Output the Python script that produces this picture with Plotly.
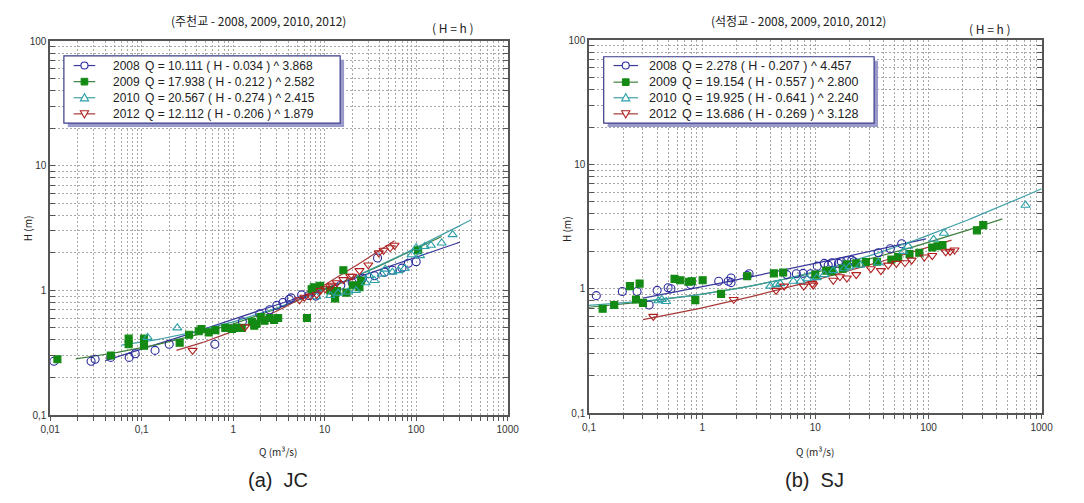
import numpy as np
import plotly.graph_objects as go

W, H_ = 1084, 503

# ---------------- data: JC (주천교) ----------------
jc_years = ["2008", "2009", "2010", "2012"]
jc_a = [10.111, 17.938, 20.567, 12.112]
jc_b = [0.034, 0.212, 0.274, 0.206]
jc_c = [3.868, 2.582, 2.415, 1.879]
jc_qmin = [0.04, 0.019, 0.06, 0.24]
jc_qmax = [300, 190, 400, 58]

jc_2008_q = [0.011, 0.028, 0.031, 0.046, 0.073, 0.085, 0.14, 0.20, 0.63, 1.26, 1.95, 2.5, 3.0, 3.5, 4.1, 4.3, 5.6, 6.7, 8, 12, 15, 20, 26, 35, 37.8, 45, 55, 70, 82, 100]
jc_2008_h = [0.27, 0.27, 0.28, 0.29, 0.29, 0.31, 0.33, 0.37, 0.37, 0.56, 0.65, 0.70, 0.76, 0.80, 0.85, 0.87, 0.92, 0.91, 0.90, 1.0, 1.1, 1.15, 1.25, 1.31, 1.82, 1.4, 1.45, 1.51, 1.65, 1.7]

jc_2009_q = [0.012, 0.046, 0.072, 0.072, 0.106, 0.106, 0.26, 0.33, 0.42, 0.45, 0.54, 0.64, 0.82, 0.97, 1.1, 1.24, 1.6, 1.7, 1.8, 2.0, 2.2, 2.5, 2.8, 3.1, 6.4, 7.2, 7.6, 8.9, 11.5, 13, 13.6, 16, 17.3, 20.3, 24, 25, 105]
jc_2009_h = [0.28, 0.30, 0.41, 0.37, 0.41, 0.36, 0.38, 0.44, 0.47, 0.49, 0.46, 0.48, 0.50, 0.49, 0.50, 0.50, 0.56, 0.52, 0.54, 0.61, 0.57, 0.60, 0.58, 0.60, 0.60, 1.02, 1.06, 1.09, 1.0, 0.86, 0.99, 1.45, 0.96, 1.1, 1.06, 1.2, 2.1]

jc_2010_q = [0.116, 0.245, 8.1, 11.5, 14, 18, 22, 28, 30.7, 35, 42, 46, 55, 64, 75, 89, 100, 110, 124, 145, 190, 250]
jc_2010_h = [0.42, 0.50, 0.89, 0.91, 0.95, 0.97, 1.0, 1.15, 1.32, 1.2, 1.35, 1.48, 1.4, 1.44, 1.5, 1.93, 2.2, 1.9, 2.25, 2.3, 2.4, 2.8]

jc_2012_q = [0.36, 1.35, 5.3, 6.0, 7, 8.2, 9, 10.1, 11.5, 12, 13.6, 16, 19, 20, 24, 30, 39, 44, 52, 58]
jc_2012_h = [0.33, 0.51, 0.84, 0.88, 0.90, 0.93, 1.0, 1.03, 1.07, 1.1, 1.15, 1.22, 1.3, 1.3, 1.44, 1.6, 2.0, 2.1, 2.2, 2.3]

# ---------------- data: SJ (석정교) ----------------
sj_years = ["2008", "2009", "2010", "2012"]
sj_a = [2.278, 19.154, 19.925, 13.686]
sj_b = [0.207, 0.557, 0.641, 0.269]
sj_c = [4.457, 2.800, 2.240, 3.128]
sj_qmin = [0.3, 0.1, 0.1, 0.3]
sj_qmax = [95, 450, 1000, 160]

sj_2008_q = [0.116, 0.197, 0.266, 0.34, 0.40, 0.50, 0.53, 0.79, 1.4, 1.7, 1.8, 1.8, 2.5, 2.6, 5.6, 6.8, 7.8, 9.1, 10.4, 12, 13, 14, 16, 17, 19, 21, 22, 36, 46, 58]
sj_2008_h = [0.88, 0.95, 0.95, 0.74, 0.97, 1.02, 1.0, 1.08, 1.15, 1.15, 1.22, 1.12, 1.28, 1.32, 1.3, 1.32, 1.33, 1.32, 1.52, 1.6, 1.55, 1.62, 1.6, 1.65, 1.68, 1.7, 1.65, 1.95, 2.1, 2.3]

sj_2009_q = [0.132, 0.167, 0.23, 0.28, 0.26, 0.30, 0.57, 0.64, 0.76, 0.81, 1.01, 0.87, 1.47, 2.5, 4.3, 5.2, 10, 12.5, 14, 17.5, 19, 23, 28, 35, 47, 54, 68, 83, 108, 120, 133, 268, 305]
sj_2009_h = [0.69, 0.74, 1.05, 1.10, 0.82, 0.77, 1.2, 1.17, 1.14, 1.15, 1.17, 0.81, 0.91, 1.26, 1.33, 1.35, 1.3, 1.4, 1.38, 1.45, 1.57, 1.6, 1.64, 1.65, 1.72, 1.8, 1.9, 1.95, 2.15, 2.2, 2.25, 2.95, 3.25]

sj_2010_q = [0.41, 0.44, 0.48, 4.0, 4.5, 4.9, 6.4, 7.4, 8.5, 10.3, 12, 14.4, 18, 20, 25, 36, 60, 66, 111, 137, 720]
sj_2010_h = [0.80, 0.82, 0.79, 1.05, 1.08, 1.1, 1.15, 1.15, 1.2, 1.23, 1.3, 1.4, 1.45, 1.5, 1.55, 1.62, 2.0, 2.2, 2.5, 2.8, 4.7]

sj_2012_q = [0.37, 1.9, 4.5, 5.3, 7.9, 9.4, 9.6, 14.4, 16.5, 19, 23, 31, 38, 44, 52, 62, 71, 92, 108, 142, 155, 170]
sj_2012_h = [0.60, 0.82, 0.97, 1.05, 1.05, 1.1, 1.07, 1.17, 1.25, 1.22, 1.3, 1.45, 1.4, 1.55, 1.6, 1.62, 1.7, 1.8, 1.85, 1.98, 2.0, 2.05]

# ---------------- styles ----------------
pt_colors = ["#2a2a9e", "#138a13", "#2aa0a8", "#b02020"]
ln_colors = ["#3a3a9a", "#3d7f3d", "#3f9fa6", "#a83a3a"]
symbols = ["circle-open", "square", "triangle-up-open", "triangle-down-open"]
msizes = [8, 7, 8, 8]

fig = go.Figure()


def px_x(p):
    return p / W


def px_y(p):
    return 1 - p / H_


stations = [
    dict(years=jc_years, a=jc_a, b=jc_b, c=jc_c, qmin=jc_qmin, qmax=jc_qmax,
         pts=[(jc_2008_q, jc_2008_h), (jc_2009_q, jc_2009_h), (jc_2010_q, jc_2010_h), (jc_2012_q, jc_2012_h)],
         xa="x", ya="y", fsize=12,
         box=(55, 51, 337, 120), rows=[61, 77.5, 94, 110.5], line_x=(65, 87), year_x=104, eq_x=137),
    dict(years=sj_years, a=sj_a, b=sj_b, c=sj_c, qmin=sj_qmin, qmax=sj_qmax,
         pts=[(sj_2008_q, sj_2008_h), (sj_2009_q, sj_2009_h), (sj_2010_q, sj_2010_h), (sj_2012_q, sj_2012_h)],
         xa="x2", ya="y2", fsize=12.5,
         box=(606, 52, 882, 120), rows=[61, 78, 94, 110.5], line_x=(616, 641), year_x=651, eq_x=685),
]

for st in stations:
    for i in range(4):
        a, b, c = st["a"][i], st["b"][i], st["c"][i]
        qs = np.logspace(np.log10(st["qmin"][i]), np.log10(st["qmax"][i]), 80)
        hs = b + (qs / a) ** (1.0 / c)
        fig.add_trace(go.Scatter(x=qs, y=hs, mode="lines", xaxis=st["xa"], yaxis=st["ya"],
                                 line=dict(color=ln_colors[i], width=1.2), showlegend=False,
                                 hoverinfo="skip"))
    for i in range(4):
        q, h = st["pts"][i]
        fig.add_trace(go.Scatter(x=q, y=h, mode="markers", xaxis=st["xa"], yaxis=st["ya"],
                                 marker=dict(symbol=symbols[i], size=msizes[i], color=pt_colors[i],
                                             line=dict(width=1.1, color=pt_colors[i])),
                                 showlegend=False))

grid_c = "#a8a8a8"
tick_font = dict(family="Liberation Sans, Arial", size=10, color="#333")


def xaxis_cfg(dom, rng, vals, anchor):
    return dict(type="log", domain=dom, range=rng, anchor=anchor, tickmode="array", tickvals=vals,
                ticktext=[str(v).replace(".", ",") if v < 1 else str(int(v)) for v in vals],
                showline=True, linecolor="#555", linewidth=1.5, mirror=True,
                ticks="outside", ticklen=4, tickcolor="#555",
                showgrid=True, gridcolor=grid_c, griddash="2px,2px", gridwidth=1,
                minor=dict(dtick="D1", ticks="outside", ticklen=4, tickcolor="#555",
                           showgrid=True, gridcolor=grid_c, griddash="2px,2px", gridwidth=1),
                tickfont=tick_font, zeroline=False)


def yaxis_cfg(dom, anchor):
    vals = [0.1, 1, 10, 100]
    return dict(type="log", domain=dom, range=[-1, 2], anchor=anchor, tickmode="array", tickvals=vals,
                ticktext=["0,1", "1", "10", "100"],
                showline=True, linecolor="#555", linewidth=1.5, mirror="allticks",
                ticks="inside", ticklen=5, tickcolor="#555",
                showgrid=True, gridcolor=grid_c, griddash="2px,2px", gridwidth=1,
                minor=dict(dtick="D1", ticks="inside", ticklen=5, tickcolor="#555",
                           showgrid=True, gridcolor=grid_c, griddash="2px,2px", gridwidth=1),
                tickfont=tick_font, zeroline=False)


fig.update_layout(
    width=W, height=H_, margin=dict(l=0, r=0, t=0, b=0), autosize=False,
    paper_bgcolor="white", plot_bgcolor="white", showlegend=False,
    xaxis=xaxis_cfg([px_x(41), px_x(508)], [-2, 3], [0.01, 0.1, 1, 10, 100, 1000], "y"),
    yaxis=yaxis_cfg([px_y(419), px_y(36)], "x"),
    xaxis2=xaxis_cfg([px_x(591), px_x(1053)], [-1, 3], [0.1, 1, 10, 100, 1000], "y2"),
    yaxis2=yaxis_cfg([px_y(417), px_y(35)], "x2"),
)

# ---------------- hand-drawn legend boxes ----------------
shapes = []


def add_marker_shape(kind, cx, cy, color):
    r = 3.6
    if kind == 0:
        shapes.append(dict(type="circle", xref="paper", yref="paper",
                           x0=px_x(cx - r), x1=px_x(cx + r), y0=px_y(cy + r), y1=px_y(cy - r),
                           fillcolor="white", line=dict(color=color, width=1.1), layer="above"))
    elif kind == 1:
        s = 3.4
        shapes.append(dict(type="rect", xref="paper", yref="paper",
                           x0=px_x(cx - s), x1=px_x(cx + s), y0=px_y(cy + s), y1=px_y(cy - s),
                           fillcolor=color, line=dict(color=color, width=1), layer="above"))
    else:
        d = -1 if kind == 2 else 1  # up / down
        tip = (cx, cy + d * 4.2)
        b1 = (cx - 4.2, cy - d * 3.2)
        b2 = (cx + 4.2, cy - d * 3.2)
        path = "M {} {} L {} {} L {} {} Z".format(px_x(tip[0]), px_y(tip[1]), px_x(b1[0]), px_y(b1[1]),
                                                  px_x(b2[0]), px_y(b2[1]))
        shapes.append(dict(type="path", xref="paper", yref="paper", path=path,
                           fillcolor="white", line=dict(color=color, width=1.1), layer="above"))


for st in stations:
    leg_font = dict(family="Liberation Sans, Arial", size=st["fsize"], color="#222")
    x0, y0, x1, y1 = st["box"]
    shapes.append(dict(type="rect", xref="paper", yref="paper",
                       x0=px_x(x0 + 4), x1=px_x(x1 + 4), y0=px_y(y1 + 4), y1=px_y(y0 + 4),
                       fillcolor="#9a9acb", line=dict(width=0), layer="above"))
    shapes.append(dict(type="rect", xref="paper", yref="paper",
                       x0=px_x(x0), x1=px_x(x1), y0=px_y(y1), y1=px_y(y0),
                       fillcolor="white", line=dict(color="#3a3a8a", width=1.2), layer="above"))
    lx0, lx1 = st["line_x"]
    for i in range(4):
        ry = st["rows"][i]
        shapes.append(dict(type="line", xref="paper", yref="paper",
                           x0=px_x(lx0), x1=px_x(lx1), y0=px_y(ry), y1=px_y(ry),
                           line=dict(color=ln_colors[i], width=1.2), layer="above"))
        add_marker_shape(i, (lx0 + lx1) / 2, ry, pt_colors[i])
        fig.add_annotation(x=px_x(st["year_x"]), y=px_y(ry), xref="paper", yref="paper",
                           text=st["years"][i], showarrow=False, xanchor="left", yanchor="middle",
                           font=leg_font, borderpad=0)
        eq = f"Q = {st['a'][i]:.3f} ( H - {st['b'][i]:.3f} ) ^ {st['c'][i]:.3f}"
        fig.add_annotation(x=px_x(st["eq_x"]), y=px_y(ry), xref="paper", yref="paper",
                           text=eq, showarrow=False, xanchor="left", yanchor="middle",
                           font=leg_font, borderpad=0)

fig.update_layout(shapes=shapes)

kfont = "Noto Sans CJK KR, Liberation Sans"
ann = [
    (254, 15, "(주천교 - 2008, 2009, 2010, 2012)", 12, kfont, 0),
    (452, 22, "( H = h )", 12, kfont, 0),
    (805, 15, "(석정교 - 2008, 2009, 2010, 2012)", 12, kfont, 0),
    (1000, 23, "( H = h )", 12, kfont, 0),
    (274, 456, "Q (m³/s)", 10, kfont, 0),
    (822, 456, "Q (m³/s)", 10, kfont, 0),
    (18, 228, "H (m)", 10, kfont, -90),
    (568, 228, "H (m)", 10, kfont, -90),
    (274, 486, "(a)  JC", 20, "Liberation Sans, Arial", 0),
    (821, 486, "(b)  SJ", 20, "Liberation Sans, Arial", 0),
]
for (x, y, t, s, f, ang) in ann:
    fig.add_annotation(x=px_x(x), y=px_y(y), xref="paper", yref="paper", text=t, showarrow=False,
                       xanchor="center", yanchor="middle", textangle=ang,
                       font=dict(size=s, family=f, color="#222"))

fig.write_html(
    "out.html",
    config={"displayModeBar": False, "responsive": False},
    default_width="1084px", default_height="503px",
    post_script=(
        "document.documentElement.style.margin='0';document.documentElement.style.padding='0';"
        "document.documentElement.style.overflow='hidden';"
        "document.body.style.margin='0';document.body.style.padding='0';"
        "document.body.style.overflow='hidden';document.body.style.height='503px';"
    ),
)
